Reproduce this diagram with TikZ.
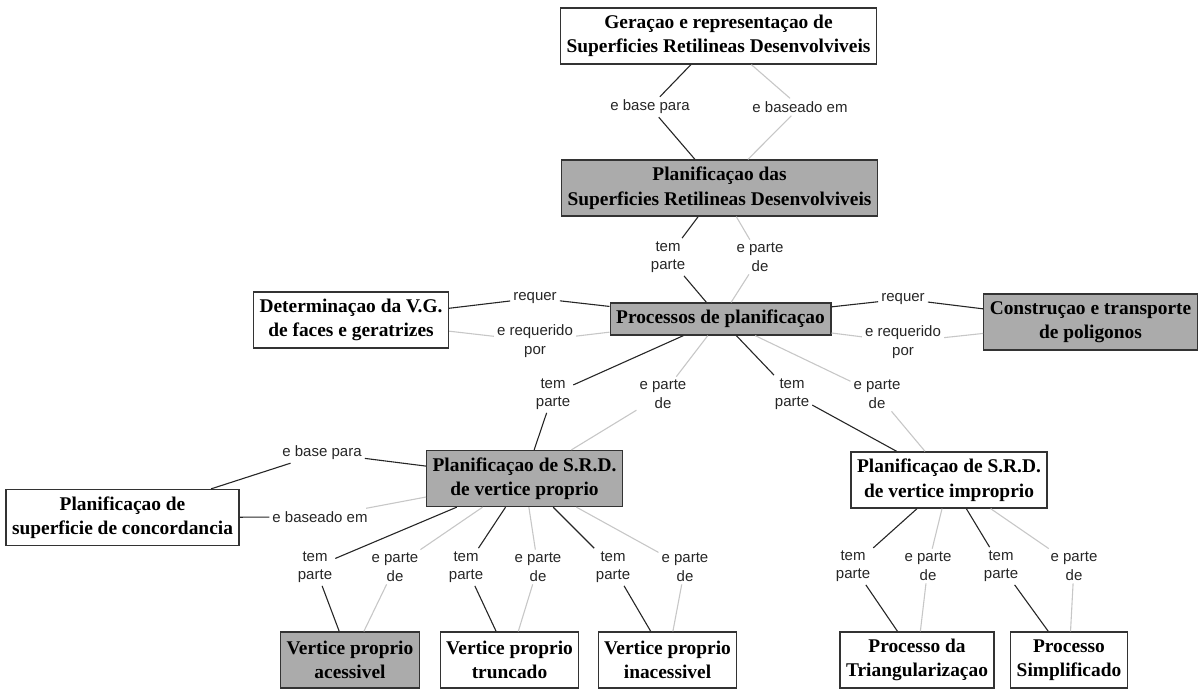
\documentclass[tikz,border=0pt]{standalone}
\usepackage{fontspec}
\setmainfont{Liberation Serif}
\newfontfamily\rotulofont{Liberation Sans}
\usepackage{tikz}

\begin{document}
\begin{tikzpicture}[x=1pt,y=-1pt,
    conceito/.style={draw=black!80, line width=1.3pt, align=center, inner xsep=6pt, inner ysep=0pt,
      minimum height=56pt, font=\fontsize{19.4}{24.5}\selectfont\bfseries},
    cinza/.style={conceito, fill=black!33},
    rotulo/.style={align=center, inner sep=3pt, text=black!85, font=\fontsize{15}{18.5}\selectfont\rotulofont},
    liga/.style={draw=black!85, line width=1.1pt},
    volta/.style={draw=black!22, line width=1.1pt}]
      \useasboundingbox (0,0) rectangle (1199,690);

      \node[conceito] (ger) at (718.5,36) {Geraçao e representaçao de\\Superficies Retilineas Desenvolviveis};
      \node[cinza] (plan) at (719.5,188) {Planificaçao das\\Superficies Retilineas Desenvolviveis};
      \node[cinza, minimum height=32pt] (proc) at (720.5,319) {Processos de planificaçao};
      \node[conceito] (det) at (351,320) {Determinaçao da V.G.\\de faces e geratrizes};
      \node[cinza] (constr) at (1090.5,322) {Construçao e transporte\\de poligonos};
      \node[cinza] (prop) at (524.5,478.5) {Planificaçao de S.R.D.\\de vertice proprio};
      \node[conceito] (improp) at (949,480) {Planificaçao de S.R.D.\\de vertice improprio};
      \node[conceito] (conc) at (122.5,517.5) {Planificaçao de\\superficie de concordancia};
      \node[cinza] (acess) at (350,660) {Vertice proprio\\acessivel};
      \node[conceito] (trunc) at (509.5,660) {Vertice proprio\\truncado};
      \node[conceito] (inac) at (667.5,660) {Vertice proprio\\inacessivel};
      \node[conceito] (triang) at (917,660) {Processo da\\Triangularizaçao};
      \node[conceito] (simpl) at (1069,660) {Processo\\Simplificado};

      \node[rotulo] (ebp1) at (650,107) {e base para};
      \node[rotulo] (ebe1) at (800,107) {e baseado em};
      \node[rotulo] (tp1) at (668,257) {tem\\parte};
      \node[rotulo] (epd1) at (760,257) {e parte\\de};
      \node[rotulo] (rq1) at (535,298) {requer};
      \node[rotulo] (erp1) at (535,341) {e requerido\\por};
      \node[rotulo] (rq2) at (903,299) {requer};
      \node[rotulo] (erp2) at (903,342) {e requerido\\por};
      \node[rotulo] (tp2) at (553,394) {tem\\parte};
      \node[rotulo] (epd2) at (663,394) {e parte\\de};
      \node[rotulo] (tp3) at (792,394) {tem\\parte};
      \node[rotulo] (epd3) at (877,394) {e parte\\de};
      \node[rotulo] (ebp2) at (322,453) {e base para};
      \node[rotulo] (ebe2) at (320,517) {e baseado em};
      \node[rotulo] (tp4) at (315,567) {tem\\parte};
      \node[rotulo] (epd4) at (395,567) {e parte\\de};
      \node[rotulo] (tp5) at (466,567) {tem\\parte};
      \node[rotulo] (epd5) at (538,567) {e parte\\de};
      \node[rotulo] (tp6) at (613,567) {tem\\parte};
      \node[rotulo] (epd6) at (685,567) {e parte\\de};
      \node[rotulo] (tp7) at (853,566) {tem\\parte};
      \node[rotulo] (epd7) at (928,566) {e parte\\de};
      \node[rotulo] (tp8) at (1001,566) {tem\\parte};
      \node[rotulo] (epd8) at (1074,566) {e parte\\de};

      \foreach \a/\r/\b in {ger/ebp1/plan, plan/tp1/proc, proc/rq1/det, proc/rq2/constr,
          proc/tp2/prop, proc/tp3/improp, prop/ebp2/conc, prop/tp4/acess, prop/tp5/trunc,
          prop/tp6/inac, improp/tp7/triang, improp/tp8/simpl}{
        \draw[liga] (\a) -- (\r) -- (\b);
      }
      \foreach \a/\r/\b in {plan/ebe1/ger, proc/epd1/plan, det/erp1/proc, constr/erp2/proc,
          prop/epd2/proc, improp/epd3/proc, acess/epd4/prop, trunc/epd5/prop,
          inac/epd6/prop, triang/epd7/improp, simpl/epd8/improp}{
        \draw[volta] (\a) -- (\r) -- (\b);
      }
      \draw[liga] (conc) -- (ebe2);
      \draw[volta] (ebe2) -- (prop);
    \end{tikzpicture}
\end{document}
